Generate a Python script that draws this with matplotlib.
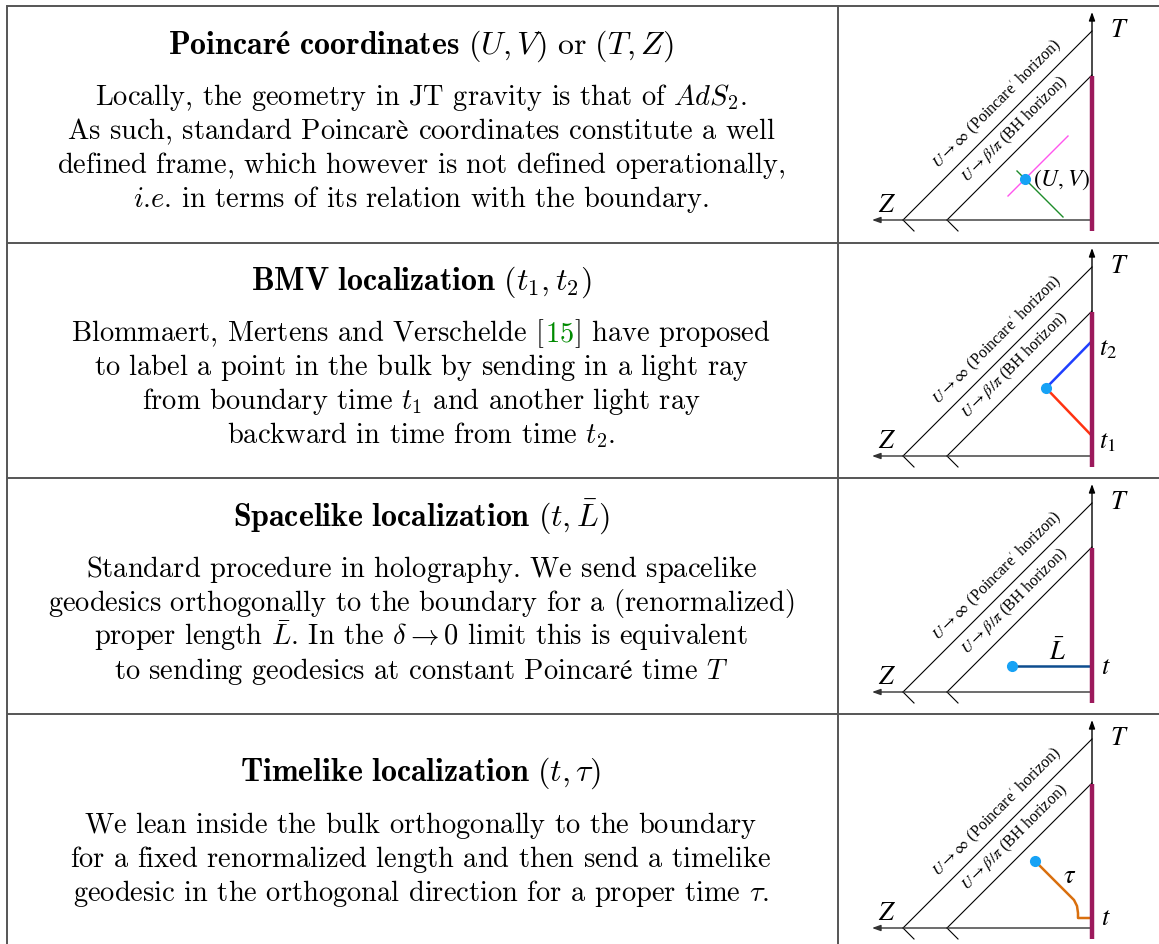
import numpy as np
import matplotlib.pyplot as plt

plt.rcParams['mathtext.fontset'] = 'cm'

# ---- table content ----
titles = [
    r'$\mathbf{Poincaré\ coordinates}\ (U,V)\ \text{or}\ (T,Z)$',
    r'$\mathbf{BMV\ localization}\ (t_1,t_2)$',
    r'$\mathbf{Spacelike\ localization}\ (t,\bar{L})$',
    r'$\mathbf{Timelike\ localization}\ (t,\tau)$',
]

bodies = [
    [[r'$\text{Locally, the geometry in JT gravity is that of }AdS_2\text{.}$'],
     [r'$\text{As such, standard Poincarè coordinates constitute a well}$'],
     [r'$\text{defined frame, which however is not defined operationally,}$'],
     [r'$\mathit{i}\text{.}\mathit{e}\text{. in terms of its relation with the boundary.}$']],
    [[r'$\text{Blommaert, Mertens and Verschelde [}$', r'$\text{15}$', r'$\text{] have proposed}$'],
     [r'$\text{to label a point in the bulk by sending in a light ray}$'],
     [r'$\text{from boundary time }t_1\text{ and another light ray}$'],
     [r'$\text{backward in time from time }t_2\text{.}$']],
    [[r'$\text{Standard procedure in holography. We send spacelike}$'],
     [r'$\text{geodesics orthogonally to the boundary for a (renormalized)}$'],
     [r'$\text{proper length }\bar{L}\text{. In the }\delta\rightarrow 0\text{ limit this is equivalent}$'],
     [r'$\text{to sending geodesics at constant Poincaré time }T$']],
    [[r'$\text{We lean inside the bulk orthogonally to the boundary}$'],
     [r'$\text{for a fixed renormalized length and then send a timelike}$'],
     [r'$\text{geodesic in the orthogonal direction for a proper time }\tau\text{.}$']],
]
cite_color = '#008a00'

# ---- diagram pieces (offsets from foot of T axis, pixels) ----
poinc_foot = -189
bh_foot = -145
t_top = -208
z_end = -220
boundary_span = (-144, 11)

probe_point = [(-67, -41), (-46, -68), (-80, -26), (-57, -67)]
seg_uv_const_v = [(-84, -24), (-24, -84)]
seg_uv_const_u = [(-75, -49), (-29, -3)]
ray_in = [(-46, -68), (0, -20)]
ray_out = [(-46, -68), (0, -115)]
space_geo = [(-80, -26), (0, -26)]
time_geo = [(-57, -67), (-18, -28), (-15, -22), (-14, -15), (-14, -10), (0, -10)]

W, H = 1159, 945
fig = plt.figure(figsize=(W / 100, H / 100), dpi=100)
ax = fig.add_axes([0, 0, 1, 1])
ax.set_xlim(0, W)
ax.set_ylim(H, 0)
ax.axis('off')
rend = fig.canvas.get_renderer()

# table grid
grid_c = '#555555'
left, top, col_x = 7, 7, 838
row_y = [7, 244, 479, 715]
for y in row_y:
    ax.plot([left, W], [y, y], color=grid_c, lw=1.4, solid_capstyle='butt')
ax.plot([left, left], [top, H], color=grid_c, lw=1.4)
ax.plot([col_x, col_x], [top, H], color=grid_c, lw=1.4)

# text
xc = 421
title_base = [54, 290, 526, 781]
body_base = [105, 341, 577, 833]
gap = 34
fs = 20.5
fs_title = 23


def centered_line(x, y, pieces, colors):
    items = []
    pos = 0
    for s, c in zip(pieces, colors):
        t = ax.text(pos, y, s, color=c, fontsize=fs, ha='left', va='baseline')
        w = t.get_window_extent(rend).width
        items.append((t, w))
        pos += w
    pos = x - pos / 2
    for t, w in items:
        t.set_x(pos)
        pos += w


for i in range(4):
    ax.text(xc, title_base[i], titles[i], fontsize=fs_title, ha='center', va='baseline')
    for j, line in enumerate(bodies[i]):
        if len(line) == 3:
            cols = ['black', cite_color, 'black']
        else:
            cols = ['black']
        centered_line(xc, body_base[i] + j * gap, line, cols)

# diagrams
ax_x = 1092
foot_y = [221, 457, 693, 929]
bcol = '#9c1a5c'
pcol = '#17a2f5'
lab = dict(math_fontfamily='stix', fontsize=19)
hl = dict(family='Liberation Serif', math_fontfamily='stix', fontsize=11.5,
          rotation=45, rotation_mode='anchor', ha='center', va='center')

for i, fy in enumerate(foot_y):
    def P(pts):
        pts = np.array(pts, dtype=float)
        return ax_x + pts[:, 0], fy + pts[:, 1]

    # horizons
    ax.plot([ax_x + poinc_foot, ax_x], [fy, fy + poinc_foot], color='black', lw=0.8)
    ax.plot([ax_x + bh_foot, ax_x], [fy, fy + bh_foot], color='black', lw=0.8)
    for f in (poinc_foot, bh_foot):
        ax.plot([ax_x + f, ax_x + f + 11], [fy, fy + 11], color='black', lw=0.8)
    # axes
    ax.annotate('', xy=(ax_x + z_end, fy), xytext=(ax_x, fy),
                arrowprops=dict(arrowstyle='-|>,head_length=0.5,head_width=0.18',
                                color='#333333', lw=1.0, shrinkA=0, shrinkB=0))
    ax.annotate('', xy=(ax_x, fy + t_top), xytext=(ax_x, fy),
                arrowprops=dict(arrowstyle='-|>,head_length=0.5,head_width=0.18',
                                color='black', lw=1.0, shrinkA=0, shrinkB=0))
    ax.plot([ax_x, ax_x], [fy + boundary_span[0], min(fy + boundary_span[1], H)],
            color=bcol, lw=3.2, solid_capstyle='butt', zorder=4)
    ax.text(ax_x + 27, fy - 191, r'$T$', ha='center', va='center', **lab)
    ax.text(ax_x - 205, fy - 16, r'$Z$', ha='center', va='center', **lab)
    ax.text(ax_x - 95, fy - 117, r'$U\rightarrow\infty$ (Poincare$^{\prime}$ horizon)', **hl)
    ax.text(ax_x - 77, fy - 91, r'$U\rightarrow\beta/\pi$ (BH horizon)', **hl)

    if i == 0:
        ax.plot(*P(seg_uv_const_v), color='#ff55ee', lw=1.0)
        ax.plot(*P(seg_uv_const_u), color='#1e8c2a', lw=1.0)
        ax.text(ax_x - 59, fy - 41, r'$(U,V)$', ha='left', va='center',
                math_fontfamily='stix', fontsize=17)
    elif i == 1:
        ax.plot(*P(ray_out), color='#1f3fff', lw=1.8)
        ax.plot(*P(ray_in), color='#ff3311', lw=1.8)
        ax.text(ax_x + 7, fy - 109, r'$t_2$', ha='left', va='center', **lab)
        ax.text(ax_x + 7, fy - 16, r'$t_1$', ha='left', va='center', **lab)
    elif i == 2:
        ax.plot(*P(space_geo), color='#0d4d8f', lw=1.8)
        ax.text(ax_x - 35, fy - 40, r'$\bar{L}$', ha='center', va='center', **lab)
        ax.text(ax_x + 14, fy - 26, r'$t$', ha='center', va='center', **lab)
    else:
        ax.plot(*P(time_geo), color='#d96f0e', lw=1.8)
        ax.text(ax_x - 22, fy - 53, r'$\tau$', ha='center', va='center', **lab)
        ax.text(ax_x + 14, fy - 11, r'$t$', ha='center', va='center', **lab)
    px, py = probe_point[i]
    ax.plot(ax_x + px, fy + py, 'o', color=pcol, ms=7, zorder=5)

fig.savefig('out.png', dpi=100)
